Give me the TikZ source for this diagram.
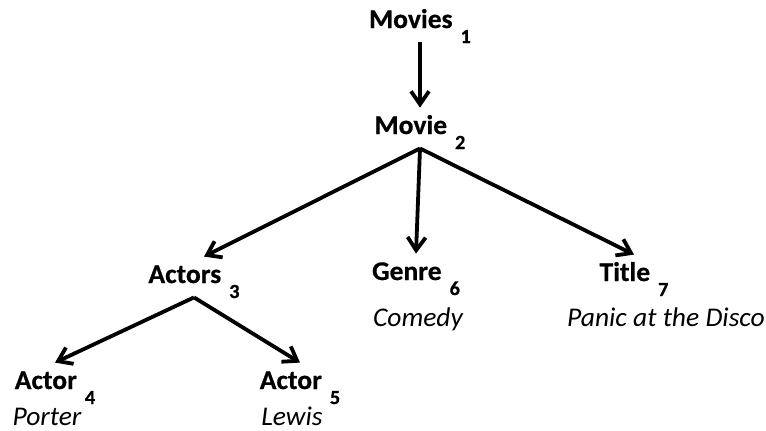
\documentclass[tikz,border=0pt]{standalone}
\usepackage{fontspec}
\setmainfont{Carlito}[FakeStretch=1.02, BoldFeatures={FakeBold=0.6}]
\usepackage{tikz}
\usetikzlibrary{arrows.meta, positioning}

\newcommand{\subidx}[1]{\hspace{4pt}\raisebox{-7.5pt}{\fontsize{10}{12}\selectfont\bfseries #1}}

\begin{document}
\begin{tikzpicture}[x=0.5pt, y=-0.5pt,
    concept/.style={anchor=base, font=\fontsize{13.5}{16}\selectfont\bfseries,
      text height=9pt, text depth=3pt, inner xsep=0pt, inner ysep=4pt},
    value/.style={anchor=base, font=\fontsize{13.5}{16}\selectfont\itshape, inner sep=0pt},
    link/.style={draw, line width=1.9pt, -{Straight Barb[length=6.5pt, width=9pt]}}]
  \useasboundingbox (0,0) rectangle (766,430);

  % tree nodes
  \node[concept] (movies) at (420,28) {Movies\subidx{1}};
  \node[concept] (movie)  at (420,134) {Movie\subidx{2}};
  \node[concept] (actors) at (194,283) {Actors\subidx{3}};
  \node[concept] (genre)  at (416,280) {Genre\subidx{6}};
  \node[concept] (title)  at (634,281) {Title\subidx{7}};
  \node[concept] (actorA) at (55,389) {Actor\subidx{4}};
  \node[concept] (actorB) at (300,389) {Actor\subidx{5}};

  % values
  \node[value] (comedy) at (418,326) {Comedy};
  \node[value] (panic)  at (666,326) {Panic at the Disco};
  \node[value] (porter) at (47,425) {Porter};
  \node[value] (lewis)  at (292,425) {Lewis};

  % connectors
  \draw[link] (movies.south) -- (movie.north);
  \draw[link] (movie.south) -- ([xshift=5pt]actors.north);
  \draw[link] (movie.south) -- (genre.north);
  \draw[link] (movie.south) -- (title.north);
  \draw[link] (actors.south) -- (actorA.north);
  \draw[link] (actors.south) -- (actorB.north);
\end{tikzpicture}
\end{document}
